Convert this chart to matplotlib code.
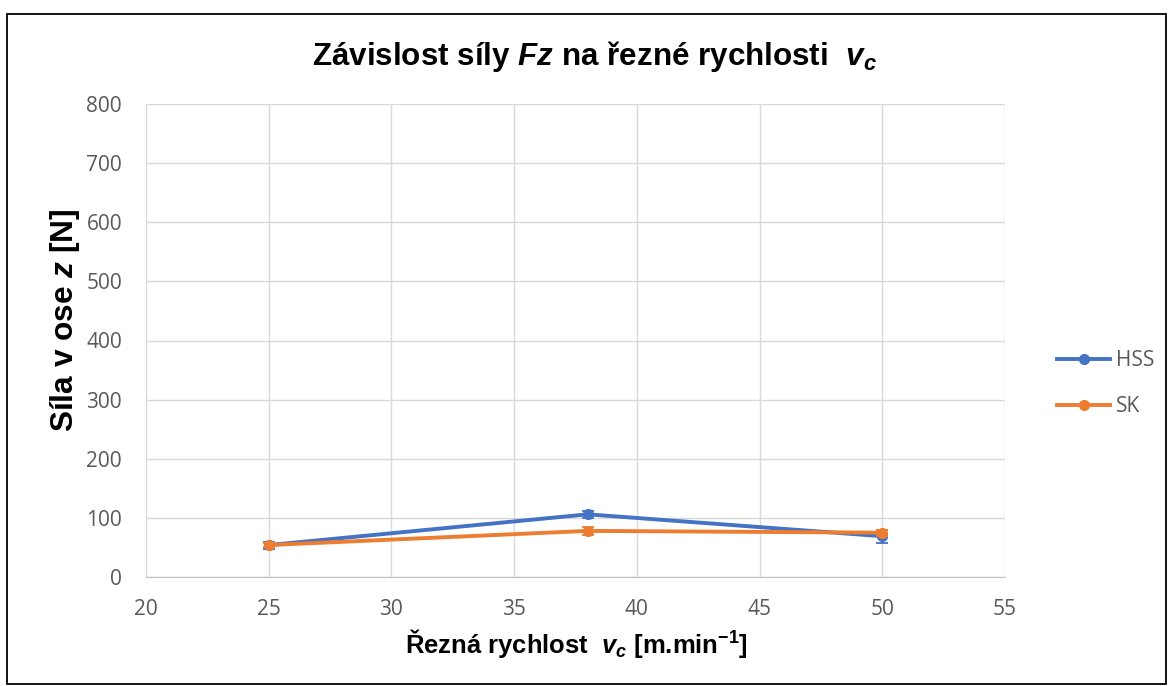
import matplotlib
matplotlib.use("Agg")
import matplotlib.pyplot as plt
from matplotlib.lines import Line2D

plt.rcParams['mathtext.fontset'] = 'custom'
plt.rcParams['mathtext.rm'] = 'Liberation Sans:bold'
plt.rcParams['mathtext.it'] = 'Liberation Sans:bold:italic'
plt.rcParams['mathtext.bf'] = 'Liberation Sans:bold'

x_vals = [25, 38, 50]
hss = [54, 106, 69]
hss_err = [6, 6, 11]
sk = [54, 78, 75]
sk_err = [4, 7, 5]
series_names = ["HSS", "SK"]
x_ticks = [20, 25, 30, 35, 40, 45, 50, 55]
y_ticks = [0, 100, 200, 300, 400, 500, 600, 700, 800]

W, H = 1169, 686
fig = plt.figure(figsize=(W / 100, H / 100), dpi=100)
ax_l, ax_r, ax_t, ax_b = 146, 1005, 104, 577
ax = fig.add_axes([ax_l / W, 1 - ax_b / H, (ax_r - ax_l) / W, (ax_b - ax_t) / H])

def px(x, y):
    return (x / W, 1 - y / H)

blue = "#4472C4"
orange = "#ED7D31"
ax.errorbar(x_vals, hss, yerr=hss_err, color=blue, lw=2.8, marker='o', ms=7,
            capsize=4, elinewidth=1.3, capthick=1.3, zorder=3)
ax.errorbar(x_vals, sk, yerr=sk_err, color=orange, lw=2.8, marker='o', ms=7,
            capsize=4, elinewidth=1.3, capthick=1.3, zorder=4)

ax.set_xlim(20, 55)
ax.set_ylim(0, 800)
ax.set_xticks(x_ticks)
ax.set_yticks(y_ticks)
ax.grid(True, color="#d9d9d9", lw=1)
ax.set_axisbelow(True)
for s in ["top", "right", "left"]:
    ax.spines[s].set_visible(False)
ax.spines["bottom"].set_color("#bfbfbf")
ax.tick_params(length=0, labelsize=15, labelcolor="#595959")
ax.tick_params(axis='y', pad=24 * 0.72)
ax.tick_params(axis='x', pad=22 * 0.72)
for lab in ax.get_xticklabels() + ax.get_yticklabels():
    lab.set_fontfamily("Open Sans")

title = fig.text(*px(594, 56), r"Závislost síly $Fz$ na řezné rychlosti  $v_c$",
                 ha='center', va='center', fontsize=22, fontweight='bold',
                 family='Liberation Sans')
xlab = fig.text(*px(576, 643), r"Řezná rychlost  $v_c$ [m.min$^{\mathrm{-1}}$]",
                ha='center', va='center', fontsize=19,
                fontweight='bold', family='Liberation Sans')
ylab = fig.text(*px(65, 320), r"Síla v ose $z$ [N]", rotation=90, ha='center',
                va='center', fontsize=23, fontweight='bold', family='Liberation Sans')

# fit text sizes to the measured extents of the reference
fig.canvas.draw()
r = fig.canvas.get_renderer()
for t, target, dim in [(title, 564, 'w'), (xlab, 342, 'w'), (ylab, 224, 'h')]:
    bb = t.get_window_extent(r)
    cur = bb.width if dim == 'w' else bb.height
    t.set_fontsize(t.get_fontsize() * target / cur)

handles = [Line2D([], [], color=blue, lw=2.8, marker='o', ms=7),
           Line2D([], [], color=orange, lw=2.8, marker='o', ms=7)]
leg = fig.legend(handles, series_names, loc='center left',
                 bbox_to_anchor=px(1057, 384), frameon=False, fontsize=15,
                 labelspacing=1.2, handlelength=2.55, handletextpad=0.3,
                 borderpad=0, borderaxespad=0)
for t in leg.get_texts():
    t.set_color("#595959")
    t.set_fontfamily("Open Sans")

bx0, by0, bx1, by1 = 7, 14, 1166, 684
fig.patches.append(plt.Rectangle(px(bx0, by1), (bx1 - bx0) / W, (by1 - by0) / H,
                                 transform=fig.transFigure, fill=False,
                                 edgecolor='black', lw=1.3))

fig.savefig("out.png", dpi=100)
